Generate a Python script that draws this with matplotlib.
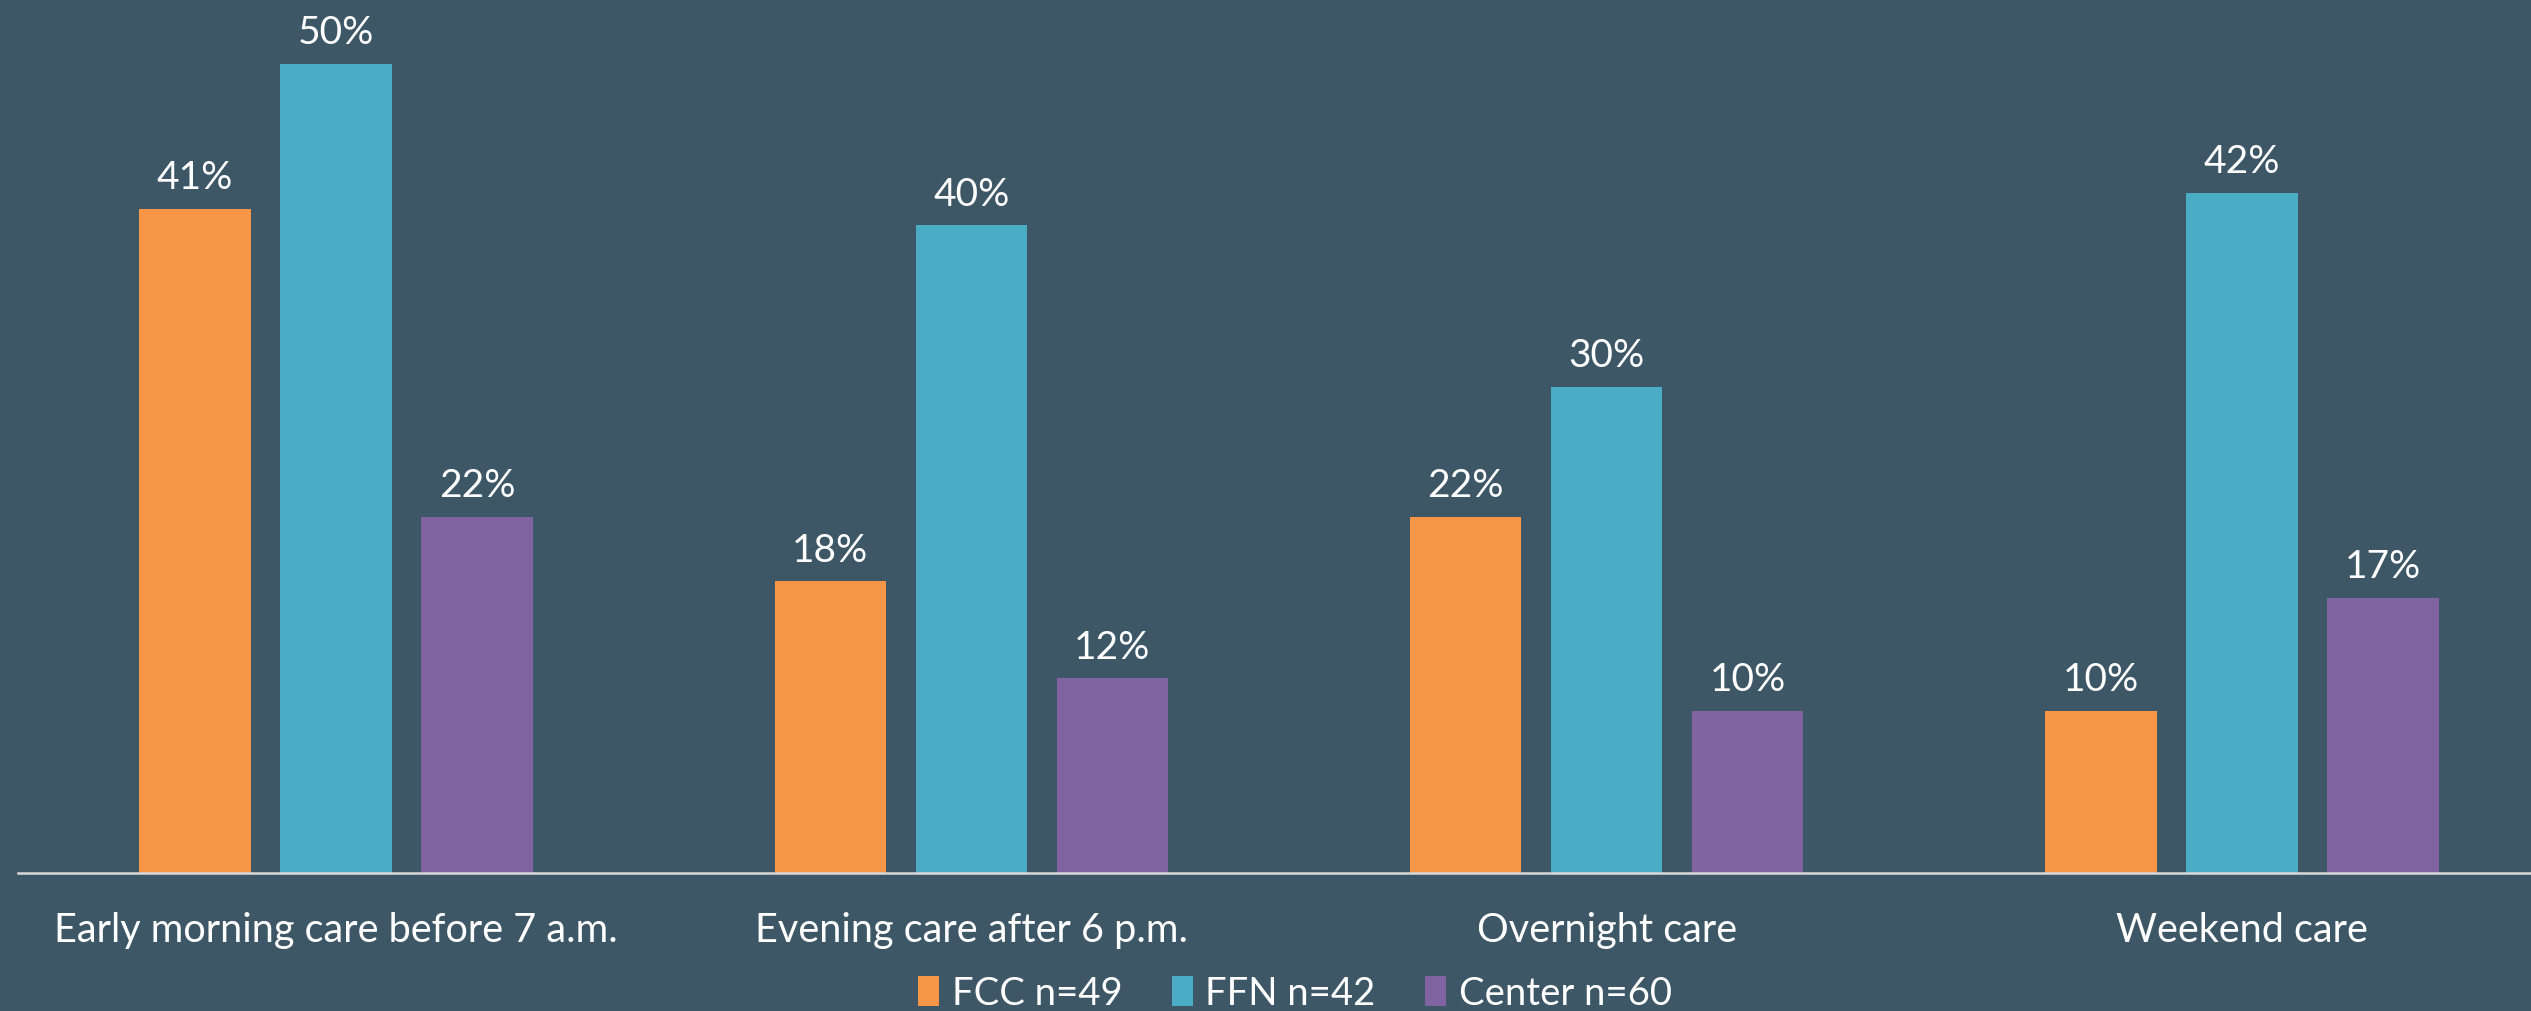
import matplotlib
matplotlib.use("Agg")
import matplotlib.pyplot as plt
import numpy as np

categories = ["Early morning care before 7 a.m.", "Evening care after 6 p.m.",
              "Overnight care", "Weekend care"]
series_names = ["FCC n=49", "FFN n=42", "Center n=60"]
fcc = [41, 18, 22, 10]
ffn = [50, 40, 30, 42]
center = [22, 12, 10, 17]
values = [fcc, ffn, center]

colors = ["#F79646", "#4BACC6", "#8064A2"]
bg = "#3D5766"
FONT = ["Lato", "DejaVu Sans"]

W, H = 2531, 1012
fig = plt.figure(figsize=(W / 100, H / 100), dpi=100, facecolor=bg)
ax_left, ax_bottom_px = 18, 873.5
ax = fig.add_axes([ax_left / W, (H - ax_bottom_px) / H, (W - ax_left) / W, ax_bottom_px / H])
ax.set_facecolor(bg)

x = np.arange(len(categories))
bw = 0.1755
step = 0.222
for k, (vals, col, name) in enumerate(zip(values, colors, series_names)):
    pos = x + (k - 1) * step
    ax.bar(pos, vals, width=bw, color=col, label=name, zorder=2)
    for p, v in zip(pos, vals):
        ax.annotate(f"{v}%", xy=(p, v), xytext=(0, 15), textcoords="offset points",
                    ha="center", va="baseline", color="white", fontsize=28, family=FONT)

ax.set_xlim(-0.5006, 3.455)
ax.set_ylim(0, 54)
for s in ["top", "right", "left"]:
    ax.spines[s].set_visible(False)
ax.spines["bottom"].set_color("#D9D9D9")
ax.spines["bottom"].set_linewidth(1.8)
ax.spines["bottom"].set_zorder(3)
ax.set_yticks([])
ax.set_xticks([])

for i, c in enumerate(categories):
    ax.annotate(c, xy=(i, 0), xycoords=("data", "axes fraction"), xytext=(0, -49),
                textcoords="offset points", ha="center", va="baseline",
                color="white", fontsize=28.5, family=FONT, annotation_clip=False)

handles, labels = ax.get_legend_handles_labels()
leg = fig.legend(handles, labels, loc="center", bbox_to_anchor=(1295 / W, 1 - 994 / H),
                 ncol=3, frameon=False, handlelength=0.55, handleheight=0.85,
                 handletextpad=0.33, columnspacing=1.3, prop={"family": FONT, "size": 27.5})
for t in leg.get_texts():
    t.set_color("white")

fig.savefig("out.png", dpi=100, facecolor=bg)
